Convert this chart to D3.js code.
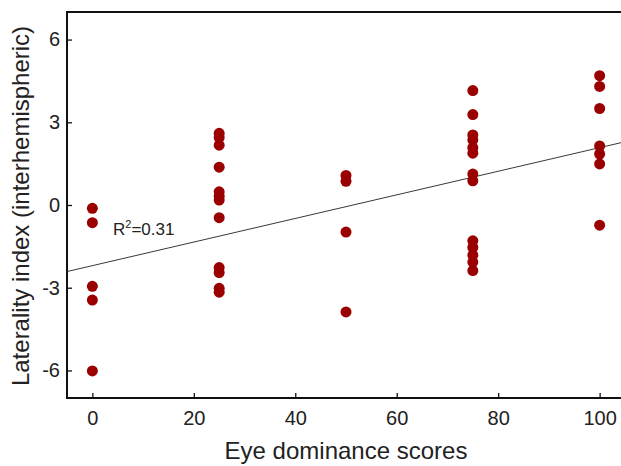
<!DOCTYPE html>
<html>
<head>
<meta charset="utf-8">
<script src="https://cdn.jsdelivr.net/npm/d3@7"></script>
<style>
  body { margin: 0; background: #fff; overflow: hidden; }
  text { font-family: "Liberation Sans", Arial, sans-serif; fill: #222; }
</style>
</head>
<body>
<div id="chart"></div>
<script>
// eye dominance score groups and laterality values
const scoreGroups = [0, 25, 50, 75, 100];
const li_0 = [-0.12, -0.64, -2.95, -3.45, -6.02];
const li_25 = [2.6, 2.45, 2.17, 1.37, 0.48, 0.32, 0.18, -0.46, -2.27, -2.45, -3.02, -3.16];
const li_50 = [1.07, 0.86, -0.98, -3.88];
const li_75 = [4.15, 3.28, 2.54, 2.36, 2.08, 1.88, 1.12, 0.88, -1.3, -1.54, -1.82, -2.07, -2.38];
const li_100 = [4.69, 4.3, 3.5, 2.14, 1.85, 1.49, -0.73];
// fitted line
const fitIntercept = -2.2;
const fitSlope = 0.0428;
const rSquared = "0.31";

const xTicks = [0, 20, 40, 60, 80, 100];
const yTicks = [-6, -3, 0, 3, 6];

const groupValues = [li_0, li_25, li_50, li_75, li_100];
const points = [];
scoreGroups.forEach((s, i) => {
    groupValues[i].forEach(v => points.push({score: s, li: v}));
});

const width = 621, height = 466;
const mLeft = 67, mRight = 625, mTop = 12, mBottom = 398;

const svg = d3.select("#chart").append("svg")
    .attr("width", width).attr("height", height);

const x = d3.scaleLinear().domain([-5, 105]).range([mLeft, mRight]);
const y = d3.scaleLinear().domain([-7, 7]).range([mBottom, mTop]);

// axes, ticks pointing inward, plain hyphen for negatives
const xAxis = svg.append("g")
    .attr("transform", `translate(0,${mBottom})`)
    .call(d3.axisBottom(x).tickValues(xTicks).tickFormat(d => String(d))
        .tickSizeInner(-5).tickSizeOuter(0).tickPadding(13));
const yAxis = svg.append("g")
    .attr("transform", `translate(${mLeft},0)`)
    .call(d3.axisLeft(y).tickValues(yTicks).tickFormat(d => String(d))
        .tickSizeInner(-5).tickSizeOuter(0).tickPadding(7));

[xAxis, yAxis].forEach(g => {
    g.select(".domain").remove();
    g.selectAll(".tick line").attr("stroke", "#111").attr("stroke-width", 1.3);
    g.selectAll(".tick text").style("font-size", "20px").attr("fill", "#222");
});

// frame: left, top, bottom (right side is cut off)
const frame = d3.path();
frame.moveTo(mRight, mTop);
frame.lineTo(mLeft, mTop);
frame.lineTo(mLeft, mBottom);
frame.lineTo(mRight, mBottom);
svg.append("path")
    .attr("d", frame.toString())
    .attr("fill", "none").attr("stroke", "#111").attr("stroke-width", 2);

// regression line
const xd = x.domain();
svg.append("line")
    .attr("x1", x(xd[0])).attr("y1", y(fitIntercept + fitSlope * xd[0]))
    .attr("x2", x(xd[1])).attr("y2", y(fitIntercept + fitSlope * xd[1]))
    .attr("stroke", "#222").attr("stroke-width", 0.9);

svg.append("g").selectAll("circle")
    .data(points)
    .join("circle")
    .attr("cx", d => x(d.score))
    .attr("cy", d => y(d.li))
    .attr("r", 5.5)
    .attr("fill", "#9b0000");

// R2 label
const r2 = svg.append("text")
    .attr("x", 113).attr("y", 235)
    .style("font-size", "17px");
r2.append("tspan").text("R");
r2.append("tspan").attr("dy", -7).style("font-size", "11px").text("2");
r2.append("tspan").attr("dy", 7).text("=" + rSquared);

// axis titles
svg.append("text")
    .attr("x", 346).attr("y", 459)
    .attr("text-anchor", "middle")
    .style("font-size", "24px")
    .text("Eye dominance scores");

svg.append("text")
    .attr("transform", "translate(29,206) rotate(-90)")
    .attr("text-anchor", "middle")
    .style("font-size", "24px")
    .text("Laterality index (interhemispheric)");
</script>
</body>
</html>
